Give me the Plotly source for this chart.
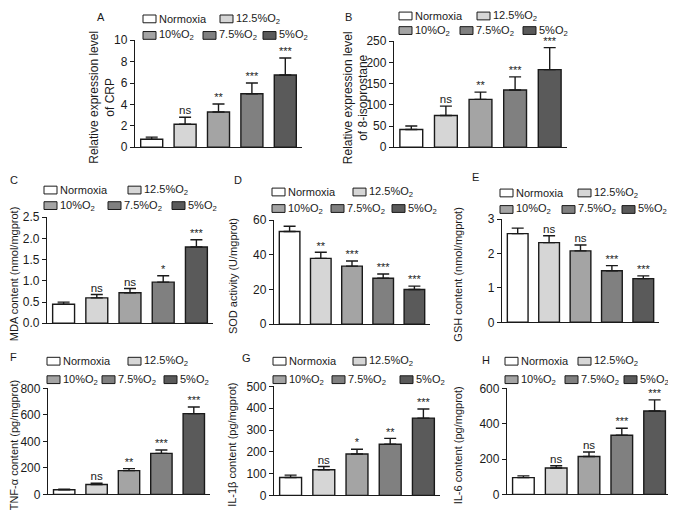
import plotly.graph_objects as go

# page is shown with the browser's 8px body margin, so the figure is drawn
# 8px smaller and every reference pixel position is shifted by OFF
OFF = 8
W, H = 676 - OFF, 517 - OFF
FONT = "Liberation Sans, Arial, sans-serif"
INK = "#1a1a1a"

groups = ["Normoxia", "12.5%O2", "10%O2", "7.5%O2", "5%O2"]
legend_labels = ["Normoxia", "12.5%O<sub>2</sub>", "10%O<sub>2</sub>",
                 "7.5%O<sub>2</sub>", "5%O<sub>2</sub>"]
bar_colors = ["#ffffff", "#d6d6d6", "#a4a4a4", "#808080", "#5a5a5a"]

# A - CRP
crp_mean = [0.75, 2.15, 3.3, 5.0, 6.75]
crp_top = [0.95, 2.8, 4.05, 6.0, 8.35]
crp_sig = ["", "ns", "**", "***", "***"]
# B - 8-isoprostane
iso_mean = [42, 75, 113, 135, 183]
iso_top = [50, 97, 130, 166, 235]
iso_sig = ["", "ns", "**", "***", "***"]
# C - MDA
mda_mean = [0.45, 0.6, 0.72, 0.97, 1.8]
mda_top = [0.5, 0.68, 0.82, 1.12, 1.97]
mda_sig = ["", "ns", "ns", "*", "***"]
# D - SOD
sod_mean = [53.5, 38, 33.5, 26.5, 20]
sod_top = [56.5, 41.5, 36.5, 29, 22]
sod_sig = ["", "**", "***", "***", "***"]
# E - GSH
gsh_mean = [2.58, 2.32, 2.08, 1.5, 1.27]
gsh_top = [2.74, 2.52, 2.25, 1.65, 1.35]
gsh_sig = ["", "ns", "ns", "***", "***"]
# F - TNF-a
tnf_mean = [35, 75, 180, 310, 610]
tnf_top = [40, 85, 195, 335, 660]
tnf_sig = ["", "ns", "**", "***", "***"]
# G - IL-1b
il1_mean = [82, 118, 190, 235, 355]
il1_top = [93, 133, 212, 262, 397]
il1_sig = ["", "ns", "*", "**", "***"]
# H - IL-6
il6_mean = [95, 150, 215, 335, 472]
il6_top = [105, 162, 240, 375, 535]
il6_sig = ["", "ns", "ns", "***", "***"]

# panel setup: plot box in px (x0, x1, ytop, ybottom), legend rows and box x's,
# letter position, title x, title font size
panels = [
    dict(letter="A", title="Relative expression level<br>of CRP",
         mean=crp_mean, top=crp_top, sig=crp_sig, ymax=10, dtick=2, fmt="",
         box=(135, 302, 34, 144), rows=(12, 29), lx=(143, 220, 143, 203, 263),
         lpos=(95, 10), tx=102, ts=12),
    dict(letter="B", title="Relative expression level<br>of 8-isoprostane",
         mean=iso_mean, top=iso_top, sig=iso_sig, ymax=250, dtick=50, fmt="",
         box=(394, 567, 35, 144), rows=(9, 24), lx=(399, 477, 399, 460, 523),
         lpos=(343, 10), tx=356, ts=12),
    dict(letter="C", title="MDA content (nmol/mgprot)",
         mean=mda_mean, top=mda_top, sig=mda_sig, ymax=2.5, dtick=0.5, fmt=".1f",
         box=(47, 213, 216, 325), rows=(188, 204), lx=(44, 128, 44, 108, 172),
         lpos=(8, 178), tx=14, ts=11),
    dict(letter="D", title="SOD activity (U/mgprot)",
         mean=sod_mean, top=sod_top, sig=sod_sig, ymax=60, dtick=20, fmt="",
         box=(274, 430, 219, 326), rows=(190, 207), lx=(272, 353, 272, 331, 392),
         lpos=(232, 178), tx=233, ts=11),
    dict(letter="E", title="GSH content (nmol/mgprot)",
         mean=gsh_mean, top=gsh_top, sig=gsh_sig, ymax=3, dtick=1, fmt="",
         box=(502, 659, 218, 324), rows=(191, 208), lx=(500, 578, 500, 562, 622),
         lpos=(470, 175), tx=458, ts=11),
    dict(letter="F", title="TNF-α content (pg/mgprot)",
         mean=tnf_mean, top=tnf_top, sig=tnf_sig, ymax=800, dtick=200, fmt="",
         box=(48, 210, 392, 501), rows=(364, 383), lx=(47, 128, 47, 102, 164),
         lpos=(8, 360), tx=14, ts=11),
    dict(letter="G", title="IL-1β content (pg/mgprot)",
         mean=il1_mean, top=il1_top, sig=il1_sig, ymax=500, dtick=100, fmt="",
         box=(274, 440, 390, 502), rows=(364, 383), lx=(273, 353, 273, 332, 400),
         lpos=(240, 361), tx=232, ts=11),
    dict(letter="H", title="IL-6 content (pg/mgprot)",
         mean=il6_mean, top=il6_top, sig=il6_sig, ymax=600, dtick=200, fmt="",
         box=(507, 671, 392, 501), rows=(364, 383), lx=(505, 578, 505, 565, 624),
         lpos=(480, 363), tx=458, ts=11),
]


def px(x):
    return (x - OFF) / W


def py(y):
    return 1 - (y - OFF) / H


fig = go.Figure()
shapes = []
annotations = []

for i, p in enumerate(panels, start=1):
    xa, ya = f"x{i}", f"y{i}"
    up = [t - m for t, m in zip(p["top"], p["mean"])]
    fig.add_trace(go.Bar(
        x=groups, y=p["mean"], xaxis=xa, yaxis=ya, width=0.66,
        marker=dict(color=bar_colors, line=dict(color=INK, width=1.4)),
        error_y=dict(type="data", symmetric=False, array=up,
                     arrayminus=[0] * 5, color=INK, thickness=1.4, width=6),
        showlegend=False, hoverinfo="skip",
    ))
    fig.add_trace(go.Scatter(
        x=groups, y=p["top"], xaxis=xa, yaxis=ya, mode="text",
        text=p["sig"], textposition="top center", cliponaxis=False,
        textfont=dict(family=FONT, color=INK,
                      size=[11.5 if s == "ns" else 11 for s in p["sig"]]),
        showlegend=False, hoverinfo="skip",
    ))
    x0, x1, yt, yb = p["box"]
    sfx = "" if i == 1 else str(i)
    fig.update_layout({
        f"xaxis{sfx}": dict(domain=[px(x0), px(x1)], anchor=ya,
                            range=[-0.5, 4.5], showticklabels=False,
                            ticks="", showline=True, linecolor=INK,
                            linewidth=1.3, showgrid=False, zeroline=False,
                            fixedrange=True),
        f"yaxis{sfx}": dict(domain=[py(yb), py(yt)], anchor=xa,
                            range=[0, p["ymax"]], dtick=p["dtick"],
                            tickformat=p["fmt"], ticks="outside", ticklen=4,
                            tickwidth=1.3, tickcolor=INK, showline=True,
                            linecolor=INK, linewidth=1.3, showgrid=False,
                            zeroline=False, fixedrange=True,
                            tickfont=dict(family=FONT, size=12, color=INK)),
    })
    # legend, drawn by hand in two rows
    r1, r2 = p["rows"]
    row_of = [r1, r1, r2, r2, r2]
    for k in range(5):
        bx, by = p["lx"][k], row_of[k]
        shapes.append(dict(type="rect", xref="paper", yref="paper",
                           x0=px(bx), x1=px(bx + 13), y0=py(by + 4),
                           y1=py(by - 4), fillcolor=bar_colors[k],
                           line=dict(color=INK, width=1)))
        annotations.append(dict(x=px(bx + 14), y=py(by), xref="paper",
                                yref="paper", xanchor="left", yanchor="middle",
                                text=legend_labels[k], showarrow=False,
                                font=dict(family=FONT, size=11, color=INK)))
    annotations.append(dict(x=px(p["lpos"][0]), y=py(p["lpos"][1]),
                            xref="paper", yref="paper", xanchor="left",
                            yanchor="middle", text=p["letter"],
                            showarrow=False,
                            font=dict(family=FONT, size=11, color=INK)))
    annotations.append(dict(x=px(p["tx"]), y=py((yt + yb) / 2 + 4),
                            xref="paper", yref="paper", xanchor="center",
                            yanchor="middle", text=p["title"], textangle=-90,
                            showarrow=False,
                            font=dict(family=FONT, size=p["ts"], color=INK)))

fig.update_layout(
    width=W, height=H, margin=dict(l=0, r=0, t=0, b=0),
    paper_bgcolor="white", plot_bgcolor="white",
    shapes=shapes, annotations=annotations, showlegend=False,
    font=dict(family=FONT, color=INK),
)

fig.write_html("out.html")
